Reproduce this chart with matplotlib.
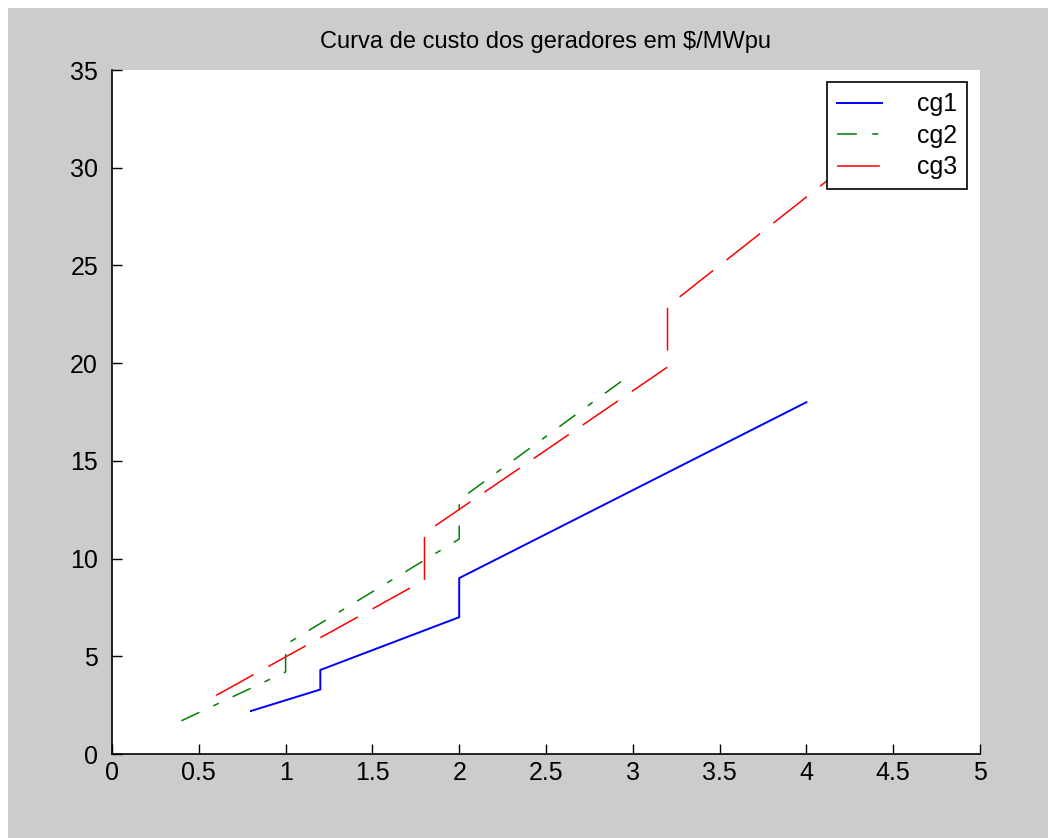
import matplotlib
matplotlib.use("Agg")
import matplotlib.pyplot as plt
from matplotlib.patches import Rectangle

plt.rcParams['font.family'] = ['Liberation Sans', 'DejaVu Sans']

# Data (piecewise marginal cost curves)
cg1_x = [0.8, 1.2, 1.2, 2.0, 2.0, 4.0]
cg1_y = [2.2, 3.3, 4.3, 7.0, 9.0, 18.0]
cg2_x = [0.4, 1.0, 1.0, 2.0, 2.0, 3.0]
cg2_y = [1.7, 4.2, 5.6, 11.0, 13.0, 19.5]
cg3_x = [0.6, 1.8, 1.8, 3.2, 3.2, 4.5]
cg3_y = [3.0, 8.9, 11.3, 19.8, 22.9, 32.0]
labels = ['cg1', 'cg2', 'cg3']
xticks = [0, 0.5, 1, 1.5, 2, 2.5, 3, 3.5, 4, 4.5, 5]
xticklabels = ['0', '0.5', '1', '1.5', '2', '2.5', '3', '3.5', '4', '4.5', '5']
yticks = [0, 5, 10, 15, 20, 25, 30, 35]

W, H = 1056, 838
fig = plt.figure(figsize=(W / 100, H / 100), dpi=100, facecolor='white')
fig.patches.append(Rectangle((8 / W, 0), 1040 / W, 830 / H, transform=fig.transFigure,
                             facecolor='#cccccc', edgecolor='none', zorder=-10))

ax = fig.add_axes([112 / W, (H - 754) / H, 868 / W, 684 / H])
ax.set_facecolor('white')

ax.plot(cg1_x, cg1_y, color='#0000ff', lw=1.4, label=labels[0])
ax.plot(cg2_x, cg2_y, color='#008000', lw=1.1, dashes=(13, 10, 4, 10), label=labels[1])
ax.plot(cg3_x, cg3_y, color='#ff0000', lw=1.1, dashes=(28, 11), label=labels[2])

ax.set_xlim(0, 5)
ax.set_ylim(0, 35)
ax.set_xticks(xticks)
ax.set_xticklabels(xticklabels)
ax.set_yticks(yticks)
for s in ['top', 'right']:
    ax.spines[s].set_visible(False)
for s in ['left', 'bottom']:
    ax.spines[s].set_linewidth(1.2)
ax.tick_params(direction='in', length=7, width=1, labelsize=18)
ax.tick_params(axis='y', pad=10)
ax.tick_params(axis='x', pad=5)

ax.set_title('Curva de custo dos geradores em $/MWpu', fontsize=17, pad=16)

leg = ax.legend(loc='upper right', bbox_to_anchor=(0.985, 0.982), fontsize=18,
                frameon=True, fancybox=False, framealpha=1, edgecolor='black',
                handlelength=1.8, handletextpad=1.4, labelspacing=0.3,
                borderpad=0.4, borderaxespad=0)
leg.get_frame().set_linewidth(1.2)

fig.savefig('out.png', dpi=100, facecolor=fig.get_facecolor())
